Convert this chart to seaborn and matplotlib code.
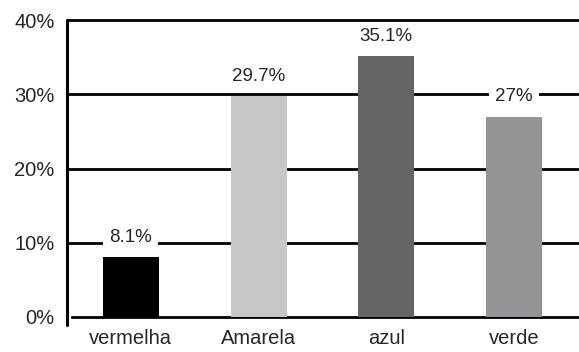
import numpy as np
import pandas as pd
import matplotlib
matplotlib.use("Agg")
import matplotlib.pyplot as plt
import seaborn as sns

# --- Data ---
categories = ["vermelha", "Amarela", "azul", "verde"]
values = [8.1, 29.7, 35.1, 27.0]
labels = ["8.1%", "29.7%", "35.1%", "27%"]
colors = ["#000000", "#c6c7c8", "#646567", "#939497"]
yticks = [0, 10, 20, 30, 40]

df = pd.DataFrame({"cor": categories, "pct": values})

sns.set_style("white")
plt.rcParams["font.family"] = ["Liberation Sans", "DejaVu Sans"]

fig = plt.figure(figsize=(5.79, 3.52), dpi=100)
ax = fig.add_axes([67 / 579, 35 / 352, 511 / 579, 297 / 352])

sns.barplot(data=df, x="cor", y="pct", hue="cor", palette=colors,
            width=0.44, legend=False, ax=ax, zorder=3, saturation=1,
            linewidth=0)

ax.set_xlim(-0.5, 3.5)
ax.set_ylim(0, 40)
ax.set_yticks(yticks)
ax.set_yticklabels([f"{t}%" for t in yticks], fontsize=14.5)
for t in yticks[1:]:
    ax.axhline(t, color="black", lw=2, zorder=1, clip_on=False)

# category labels centred, ticks on the boundaries
ax.set_xticks(np.arange(len(categories)))
ax.set_xticklabels(categories, fontsize=14.5)
ax.set_xticks(np.arange(len(categories) - 1) + 0.5, minor=True)
ax.tick_params(axis="x", which="major", length=0, pad=9)
ax.tick_params(axis="x", which="minor", length=8, width=2, direction="out", color="black")
ax.tick_params(axis="y", length=5, width=2, direction="out", color="black", pad=4)
ax.set_xlabel("")
ax.set_ylabel("")

for s in ["top", "right"]:
    ax.spines[s].set_visible(False)
ax.spines["left"].set_visible(False)
ax.spines["bottom"].set_color("black")
ax.spines["bottom"].set_linewidth(2)
ax.spines["bottom"].set_bounds(-0.46, 3.5)
ax.plot([0, 0], [-0.028, 1], transform=ax.transAxes, color="black", lw=2.2,
        clip_on=False, zorder=5)

# --- Value labels ---
for i, (v, lab) in enumerate(zip(values, labels)):
    ax.annotate(lab, (i, v), xytext=(0, 11), textcoords="offset points",
                ha="center", va="baseline", fontsize=13.5, zorder=4,
                bbox=dict(facecolor="white", edgecolor="none", pad=4.5))

fig.savefig("out.png", dpi=100)
